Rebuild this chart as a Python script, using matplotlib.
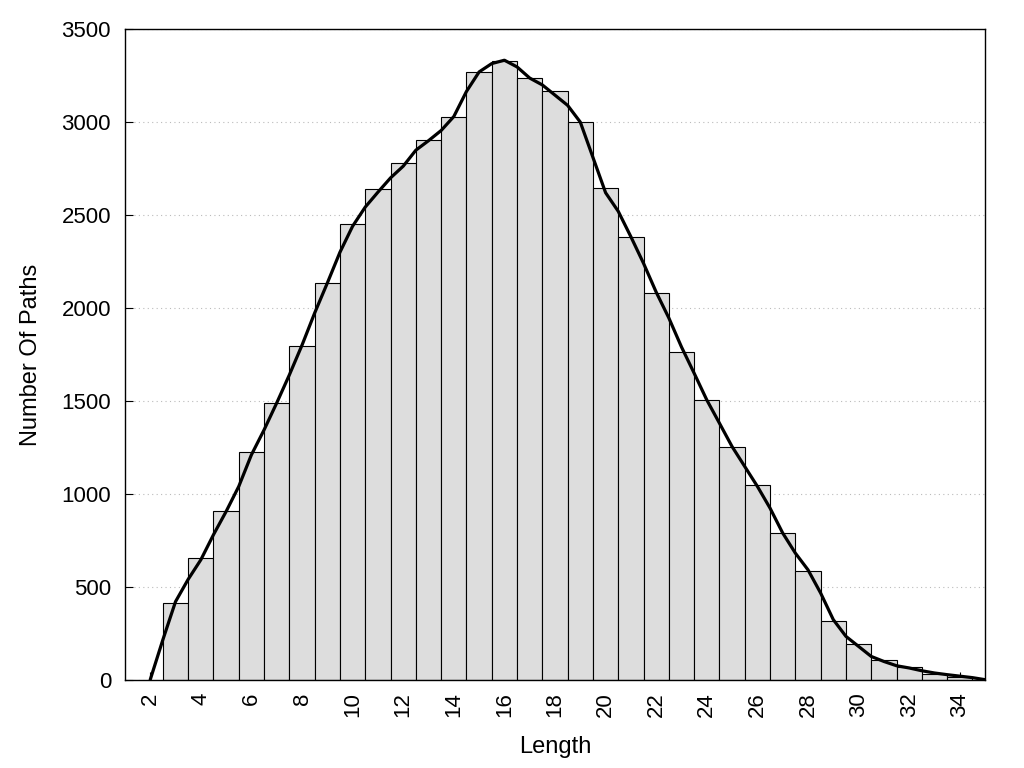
import numpy as np
import matplotlib
matplotlib.use("Agg")
import matplotlib.pyplot as plt

# Datos: longitud del camino y número de caminos
longitudes = list(range(3, 35))
caminos = [412, 654, 910, 1224, 1488, 1796, 2132, 2450, 2638, 2778, 2903, 3026,
           3267, 3330, 3235, 3165, 2998, 2643, 2380, 2078, 1762, 1505, 1253, 1047,
           789, 584, 315, 192, 105, 68, 30, 15]

curva_x = [2, 2.5, 3, 3.5, 4, 4.5, 5, 5.5, 6, 6.5, 7, 7.5, 8, 8.5, 9, 9.5, 10,
           10.5, 11, 11.5, 12, 12.5, 13, 13.5, 14, 14.5, 15, 15.5, 16, 16.5, 17,
           17.5, 18, 18.5, 19, 19.5, 20, 20.5, 21, 21.5, 22, 22.5, 23, 23.5, 24,
           24.5, 25, 25.5, 26, 26.5, 27, 27.5, 28, 28.5, 29, 29.5, 30, 30.5, 31,
           31.5, 32, 32.5, 33, 33.5, 34, 34.5, 35]
curva_y = [0, 215, 420, 540, 645, 780, 905, 1040, 1210, 1344, 1489, 1640, 1800,
           1973, 2134, 2300, 2440, 2543, 2623, 2700, 2763, 2849, 2900, 2955, 3030,
           3165, 3270, 3315, 3333, 3297, 3237, 3200, 3145, 3090, 3000, 2810, 2620,
           2520, 2383, 2240, 2085, 1946, 1790, 1649, 1505, 1380, 1254, 1147, 1040,
           923, 789, 681, 591, 466, 323, 233, 179, 125, 98, 75, 63, 48, 36, 27, 19,
           11, 0]

plt.rcParams['font.family'] = ['Liberation Sans', 'DejaVu Sans']

fig = plt.figure(figsize=(10.24, 7.68), dpi=100)
ax = fig.add_axes([0.122, 0.115, 0.84, 0.847])

ax.bar(longitudes, caminos, width=1.0, color='#dddddd', edgecolor='black',
       linewidth=0.8, zorder=2)
ax.plot(curva_x, curva_y, color='black', linewidth=2.3, zorder=3,
        solid_joinstyle='round', solid_capstyle='round')

ax.set_xlim(1, 35)
ax.set_ylim(0, 3500)
ax.set_xticks(range(2, 35, 2))
ax.set_yticks(range(0, 3501, 500))
ax.tick_params(axis='x', direction='in', length=6, labelsize=16,
               labelrotation=90, pad=9)
ax.tick_params(axis='y', direction='in', length=6, labelsize=16, pad=10)
ax.grid(axis='y', linestyle=(0, (1, 3)), color='#bbbbbb', linewidth=0.8, zorder=0)
ax.set_axisbelow(True)

for s in ax.spines.values():
    s.set_linewidth(1.0)

ax.set_xlabel('Length', fontsize=17, labelpad=14)
ax.set_ylabel('Number Of Paths', fontsize=17, labelpad=14)

plt.savefig('out.png', dpi=100)
plt.close()
